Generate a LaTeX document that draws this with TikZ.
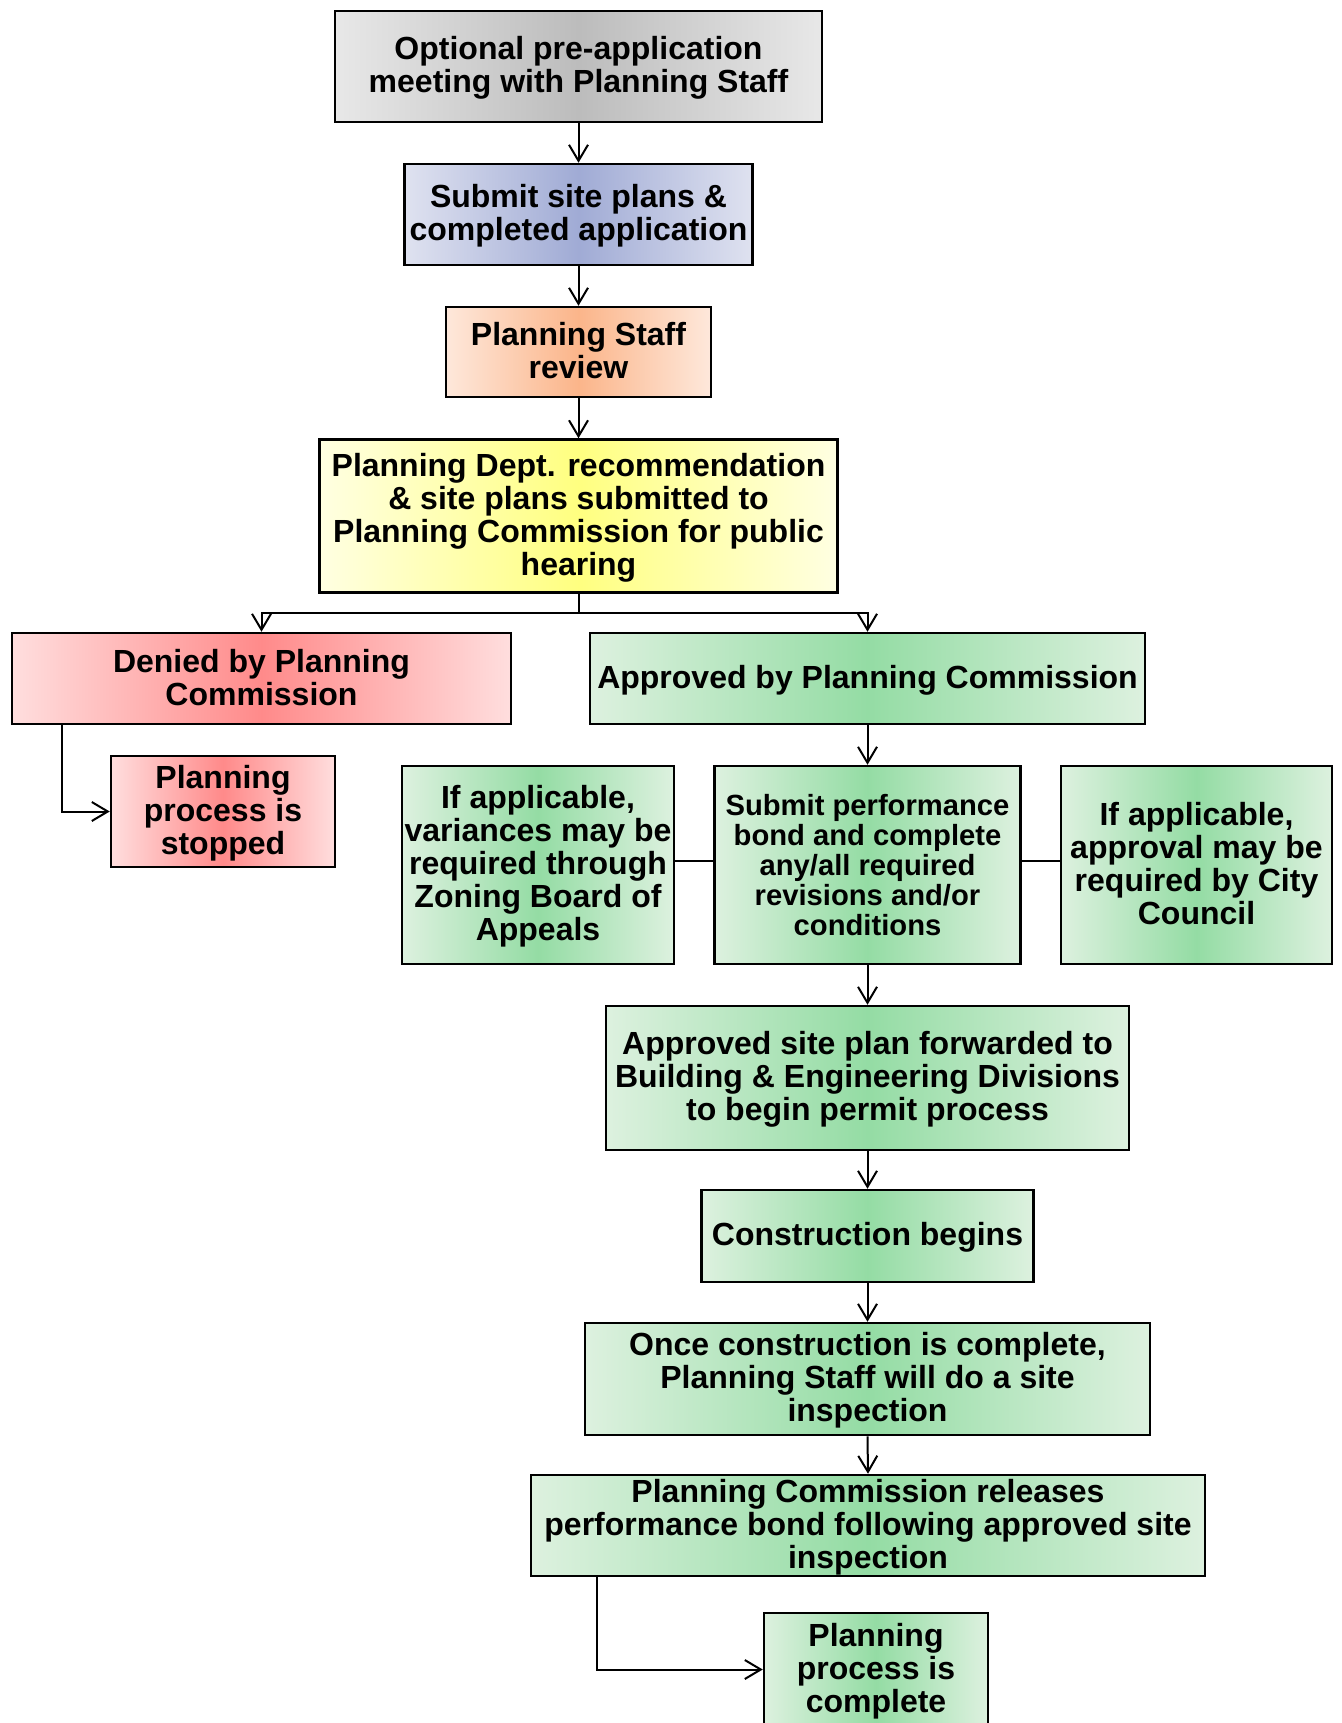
\documentclass[tikz,border=0pt]{standalone}
\usepackage{fontspec}
\setmainfont{Liberation Sans}
\usetikzlibrary{arrows.meta}
\definecolor{grayE}{HTML}{E8E8E8}\definecolor{grayC}{HTML}{BCBCBC}
\definecolor{blueE}{HTML}{DFE2F0}\definecolor{blueC}{HTML}{A0ABD5}
\definecolor{oranE}{HTML}{FEE8DB}\definecolor{oranC}{HTML}{FBB58A}
\definecolor{yellE}{HTML}{FFFFE2}\definecolor{yellC}{HTML}{FFFF80}
\definecolor{redE}{HTML}{FFDEDE}\definecolor{redC}{HTML}{FF8A8A}
\definecolor{grnE}{HTML}{DDF1DF}\definecolor{grnC}{HTML}{94DCA4}
\newcommand\ls{\rule[-6pt]{0pt}{32.5pt}}
\lineskiplimit=-50pt
\begin{document}
\begin{tikzpicture}[x=1pt,y=-1pt,
  box/.style={draw=black, line width=2.5pt, rectangle, inner sep=0pt, align=center,
    font=\bfseries\fontsize{32}{33}\selectfont},
  smallbox/.style={box, font=\bfseries\fontsize{29.2}{30}\selectfont},
  grayfill/.style={left color=grayE, right color=grayE, middle color=grayC},
  bluefill/.style={left color=blueE, right color=blueE, middle color=blueC},
  oranfill/.style={left color=oranE, right color=oranE, middle color=oranC},
  yellfill/.style={left color=yellE, right color=yellE, middle color=yellC},
  redfill/.style={left color=redE, right color=redE, middle color=redC},
  grnfill/.style={left color=grnE, right color=grnE, middle color=grnC},
  ln/.style={draw=black, line width=2pt},
  arr/.style={ln, -{Straight Barb[length=16pt,width=19pt,line width=2pt]}}]
\useasboundingbox (0,0) rectangle (1341,1723);
\clip (0,0) rectangle (1341,1723);
\fill[white] (0,0) rectangle (1341,1723);

\node[box, grayfill, minimum width=487pt, minimum height=111pt] (n1) at (578.5,66.5)
  {\ls Optional pre-application\\meeting with Planning Staff\ls};
\node[box, bluefill, minimum width=348pt, minimum height=101pt] (n2) at (578.5,214.5)
  {\ls Submit site plans \&\\completed application\ls};
\node[box, oranfill, minimum width=265pt, minimum height=90pt] (n3) at (578.5,352)
  {\ls Planning Staff\\review\ls};
\node[box, yellfill, minimum width=518pt, minimum height=153pt] (n4) at (578.5,516)
  {\ls Planning Dept. recommendation\\\& site plans submitted to\\Planning Commission for public\\hearing\ls};
\node[box, redfill, minimum width=499pt, minimum height=91pt] (n5) at (261.5,678.5)
  {\ls Denied by Planning\\Commission\ls};
\node[box, grnfill, minimum width=555pt, minimum height=91pt] (n6) at (867.5,678.5)
  {\ls Approved by Planning Commission};
\node[box, redfill, minimum width=224pt, minimum height=111pt] (n7) at (223,811.5)
  {\ls Planning\\process is\\stopped\ls};
\node[box, grnfill, minimum width=272pt, minimum height=198pt] (n8) at (538,865)
  {\ls If applicable,\\variances may be\\required through\\Zoning Board of\\Appeals\ls};
\node[smallbox, grnfill, minimum width=306pt, minimum height=198pt] (n9) at (867.5,865)
  {Submit performance\\bond and complete\\any/all required\\revisions and/or\\conditions};
\node[box, grnfill, minimum width=271pt, minimum height=198pt] (n10) at (1196.5,865)
  {\ls If applicable,\\approval may be\\required by City\\Council\ls};
\node[box, grnfill, minimum width=523pt, minimum height=144pt] (n11) at (867.5,1078)
  {\ls Approved site plan forwarded to\\Building \& Engineering Divisions\\to begin permit process\ls};
\node[box, grnfill, minimum width=332pt, minimum height=92pt] (n12) at (867.5,1236)
  {\ls Construction begins};
\node[box, grnfill, minimum width=565pt, minimum height=112pt] (n13) at (867.5,1379)
  {\ls Once construction is complete,\\Planning Staff will do a site\\inspection\ls};
\node[box, grnfill, minimum width=674pt, minimum height=101pt] (n14) at (868,1525.5)
  {\ls Planning Commission releases\\performance bond following approved site\\inspection\ls};
\node[box, grnfill, minimum width=224pt, minimum height=113pt] (n15) at (876,1669.5)
  {\ls Planning\\process is\\complete\ls};

\draw[arr] (n1.south) -- (n2.north);
\draw[arr] (n2.south) -- (n3.north);
\draw[arr] (n3.south) -- (n4.north);
\coordinate (br) at (578.5,613);
\draw[ln] (n4.south) -- (br);
\draw[arr] (br) -| (n5.north);
\draw[arr] (br) -| (n6.north);
\draw[arr] ([xshift=51.5pt]n5.south west) |- (n7.west);
\draw[arr] (n6.south) -- (n9.north);
\draw[ln] ([yshift=4pt]n8.east) -- ([yshift=4pt]n9.west);
\draw[ln] ([yshift=4pt]n9.east) -- ([yshift=4pt]n10.west);
\draw[arr] (n9.south) -- (n11.north);
\draw[arr] (n11.south) -- (n12.north);
\draw[arr] (n12.south) -- (n13.north);
\draw[arr] (n13.south) -- (n14.north);
\draw[arr] ([xshift=67pt]n14.south west) |- (n15.west);
\end{tikzpicture}
\end{document}
